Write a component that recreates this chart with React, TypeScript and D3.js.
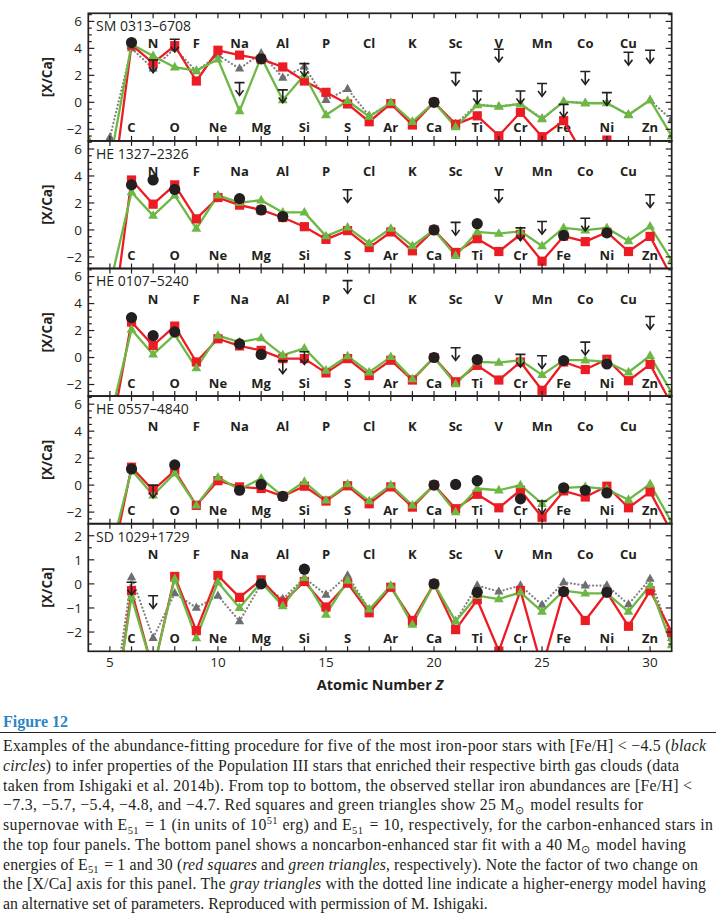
import { useEffect, useRef } from "react";
import * as d3 from "d3";

// atomic numbers covered by the model arrays (Be .. Ga)
const Z_MODEL = [4, 5, 6, 7, 8, 9, 10, 11, 12, 13, 14, 15, 16, 17, 18, 19, 20, 21, 22, 23, 24, 25, 26, 27, 28, 29, 30, 31];

const TOP_Z = [7, 9, 11, 13, 15, 17, 19, 21, 23, 25, 27, 29];
const TOP_EL = ["N", "F", "Na", "Al", "P", "Cl", "K", "Sc", "V", "Mn", "Co", "Cu"];
const BOT_Z = [6, 8, 10, 12, 14, 16, 18, 20, 22, 24, 26, 28, 30];
const BOT_EL = ["C", "O", "Ne", "Mg", "Si", "S", "Ar", "Ca", "Ti", "Cr", "Fe", "Ni", "Zn"];

const X_TICKS = [5, 10, 15, 20, 25, 30];
const Y_TICKS_CEMP = [-2, 0, 2, 4, 6];
const Y_TICKS_SD = [-2, -1, 0, 1, 2];

type V = number | null;

// ---- SM 0313-6708
const RED_1: V[] = [null, -8, 4.26, 2.9, 4.2, 1.58, 3.86, 3.5, 3.2, 2.62, 1.58, 0.74, -0.12, -1.44, -0.1, -1.68, 0, -1.63, -1.0, -2.48, -0.74, -2.55, -1.36, -4.16, -2.8, -4, -4, null];
const GREEN_1: V[] = [-2.75, -4.5, 4.3, 3.44, 2.6, 2.35, 3.19, -0.64, 3.35, 0.17, 2.03, -0.94, 0.12, -1.06, -0.02, -1.44, 0, -1.83, -0.2, -0.32, -0.12, -1.24, 0.05, -0.07, -0.05, -0.94, 0.17, -2.5];
const GRAY_1: V[] = [null, -2.6, 4.0, 2.5, 4.0, 2.3, 3.5, 2.5, 3.64, 1.83, 2.65, 0.17, 0.99, -1.0, -0.1, -1.5, 0, -1.6, -0.15, -0.3, -0.1, -1.2, 0.05, -0.05, -0.05, -0.9, 0.15, -1.3];
const OBS_1 = [[6, 4.43], [12, 3.22], [20, 0]];
const LIM_1 = [[7, 3.14], [8, 4.68], [11, 1.46], [13, 0.92], [14, 2.87], [21, 2.2], [22, 0.84], [23, 3.94], [24, 0.84], [25, 1.39], [26, -0.15], [27, 2.28], [28, 0.72], [29, 3.71], [30, 3.86]];

// ---- HE 1327-2326
const RED_2: V[] = [null, -8.4, 3.7, 1.91, 3.34, 0.82, 2.4, 1.84, 1.48, 0.92, 0.24, -0.7, -0.05, -1.31, -0.15, -1.55, 0, -1.67, -0.65, -1.6, -0.34, -2.32, -0.46, -0.87, -0.17, -1.6, -0.48, -3.5];
const GREEN_2: V[] = [null, -4.1, 2.8, 1.06, 2.56, 0.1, 2.56, 2.03, 2.2, 1.3, 1.3, -0.46, 0.19, -0.99, 0.1, -1.19, 0, -1.91, -0.15, -0.27, -0.1, -1.19, 0.15, -0.02, 0.15, -0.82, 0.27, -2.27];
const OBS_2 = [[6, 3.34], [7, 3.7], [8, 3.0], [11, 2.32], [12, 1.48], [13, 0.99], [20, 0], [22, 0.46], [26, -0.41], [28, -0.22]];
const LIM_2 = [[16, 2.98], [21, 0.56], [23, 2.98], [24, 0.15], [25, 0.63], [27, 0.87], [30, 2.61]];

// ---- HE 0107-5240
const RED_3: V[] = [null, -6.07, 2.63, 0.89, 2.33, -0.33, 1.39, 0.86, 0.53, -0.08, -0.08, -1.14, -0.08, -1.34, -0.2, -1.67, 0, -1.8, -0.58, -1.67, -0.33, -2.43, -0.33, -0.89, -0.13, -1.72, -0.51, -3.5];
const GREEN_3: V[] = [null, -4.6, 2.08, 0.23, 1.7, -0.78, 1.62, 1.14, 1.44, 0.18, 0.68, -0.96, 0.1, -1.09, 0.05, -1.6, 0, -1.97, -0.33, -0.38, -0.2, -1.29, -0.2, -0.2, -0.33, -1.09, 0.13, -2.6];
const OBS_3 = [[6, 2.96], [7, 1.62], [8, 1.9], [11, 1.01], [12, 0.23], [20, 0], [22, -0.15], [26, -0.23], [28, -0.48]];
const LIM_3 = [[13, -0.25], [14, 0.43], [16, 5.7], [21, 0.73], [24, 0.23], [25, 0.13], [27, 1.14], [30, 3.04]];

// ---- HE 0557-4840
const RED_4: V[] = [null, -6.4, 1.33, -0.38, 1.08, -1.5, 0.33, -0.13, -0.25, -0.83, -0.08, -1.18, -0.05, -1.38, -0.13, -1.63, 0, -1.75, -0.68, -1.68, -0.38, -2.38, -0.43, -0.88, -0.08, -1.68, -0.5, -3.5];
const GREEN_4: V[] = [null, -5.2, 1.13, -0.75, 0.88, -1.5, 0.58, -0.33, 0.5, -0.83, 0.25, -1.13, 0.08, -1.18, 0, -1.5, 0, -2, -0.25, -0.38, 0, -1.38, -0.2, -0.13, -0.3, -1.08, 0.08, -2.75];
const OBS_4 = [[6, 1.2], [8, 1.5], [11, -0.38], [12, 0.05], [13, -0.83], [20, 0], [21, 0.05], [22, 0.33], [24, -1.02], [26, -0.2], [27, -0.38], [28, -0.58]];
const LIM_4 = [[7, 0.0], [25, -1.18]];

// ---- SD 1029+1729
const RED_5: V[] = [null, -6.8, -0.28, -3.64, 0.31, -1.94, 0.35, -0.56, 0.17, -0.77, 0.1, -0.96, 0.03, -1.2, -0.14, -1.52, 0, -1.9, -0.66, -2.79, -0.28, -3.5, -0.32, -1.52, -0.35, -1.76, -0.28, -2.01];
const GREEN_5: V[] = [null, -6.5, -0.54, -3.6, 0.21, -2.25, 0.07, -0.99, 0.07, -0.92, 0.25, -1.27, 0.14, -1.06, -0.07, -1.69, 0, -1.55, -0.49, -0.63, -0.35, -1.15, -0.28, -0.39, -0.39, -1.15, -0.07, -2.54];
const GRAY_5: V[] = [null, -6, 0.28, -2.25, -0.39, -0.99, -0.49, -1.55, 0, -0.63, 0.25, -0.45, 0.35, -1.06, -0.14, -1.62, 0, -1.55, -0.07, -0.32, -0.07, -0.87, 0.07, -0.07, -0.07, -0.85, 0.21, -2.25];
const OBS_5 = [[12, 0], [14, 0.61], [20, 0], [22, -0.35], [26, -0.32], [28, -0.35]];
const LIM_5 = [[6, 0.07], [7, -0.49]];

const PANELS = [
  { name: "SM 0313–6708", red: RED_1, green: GREEN_1, gray: GRAY_1, obs: OBS_1, lim: LIM_1, domain: [-2.86, 6.6], ticks: Y_TICKS_CEMP, major: 2 },
  { name: "HE 1327–2326", red: RED_2, green: GREEN_2, gray: null, obs: OBS_2, lim: LIM_2, domain: [-2.86, 6.6], ticks: Y_TICKS_CEMP, major: 2 },
  { name: "HE 0107–5240", red: RED_3, green: GREEN_3, gray: null, obs: OBS_3, lim: LIM_3, domain: [-2.86, 6.6], ticks: Y_TICKS_CEMP, major: 2 },
  { name: "HE 0557–4840", red: RED_4, green: GREEN_4, gray: null, obs: OBS_4, lim: LIM_4, domain: [-2.86, 6.6], ticks: Y_TICKS_CEMP, major: 2 },
  { name: "SD 1029+1729", red: RED_5, green: GREEN_5, gray: GRAY_5, obs: OBS_5, lim: LIM_5, domain: [-2.8, 2.5], ticks: Y_TICKS_SD, major: 1 },
];

const RED = "#ec1c24";
const GREEN = "#6cb844";
const GRAYC = "#6d6e71";
const INK = "#231f20";
const SANS = "'Open Sans', 'Noto Sans', sans-serif";

const fmt = (d: number) => (d < 0 ? "−" + Math.abs(d) : String(d));

export default function App() {
  const gRef = useRef<SVGGElement>(null);

  useEffect(() => {
    if (!gRef.current) return;
    const root = d3.select(gRef.current);
    root.selectAll("*").remove();

    const left = 88.3, right = 671.7, top0 = 13.3, ph = 127.6;
    const x = d3.scaleLinear().domain([4, 31]).range([left, right]);
    const zTicks = d3.range(5, 31);

    PANELS.forEach((p, i) => {
      const t = top0 + i * ph;
      const b = t + ph;
      const y = d3.scaleLinear().domain(p.domain).range([b, t]);
      const g = root.append("g");
      const clipId = `clip-${i}`;
      g.append("clipPath").attr("id", clipId)
        .append("rect").attr("x", left).attr("y", t).attr("width", right - left).attr("height", ph);

      // element labels
      g.append("g").selectAll("text").data(TOP_Z).join("text")
        .attr("x", d => x(d)).attr("y", t + 30.5).attr("dy", "0.35em")
        .attr("text-anchor", "middle").attr("font-family", SANS).attr("font-weight", 700)
        .attr("font-size", 13).attr("fill", INK).text((d, k) => TOP_EL[k]);
      g.append("g").selectAll("text").data(BOT_Z).join("text")
        .attr("x", d => x(d)).attr("y", b - 13).attr("dy", "0.35em")
        .attr("text-anchor", "middle").attr("font-family", SANS).attr("font-weight", 700)
        .attr("font-size", 13).attr("fill", INK).text((d, k) => BOT_EL[k]);

      const data = g.append("g").attr("clip-path", `url(#${clipId})`);
      const line = d3.line<V>()
        .defined(d => d != null)
        .x((d, k) => x(Z_MODEL[k]))
        .y(d => y(d as number));
      const pts = (arr: V[]) => arr.map((v, k) => ({ z: Z_MODEL[k], v })).filter(d => d.v != null) as { z: number; v: number }[];

      if (p.gray) {
        data.append("path").attr("d", line(p.gray)).attr("fill", "none")
          .attr("stroke", "#808083").attr("stroke-width", 2.2)
          .attr("stroke-dasharray", "0.1,3.6").attr("stroke-linecap", "round");
        data.selectAll("path.gtri").data(pts(p.gray)).join("path").attr("class", "gtri")
          .attr("transform", d => `translate(${x(d.z)},${y(d.v)})`)
          .attr("d", "M0,-5.2L4.6,3L-4.6,3Z").attr("fill", GRAYC);
      }

      data.append("path").attr("d", line(p.red)).attr("fill", "none")
        .attr("stroke", RED).attr("stroke-width", 2.3).attr("stroke-linejoin", "round");
      data.append("path").attr("d", line(p.green)).attr("fill", "none")
        .attr("stroke", GREEN).attr("stroke-width", 2.3).attr("stroke-linejoin", "round");
      data.selectAll("rect.sq").data(pts(p.red)).join("rect").attr("class", "sq")
        .attr("x", d => x(d.z) - 4.6).attr("y", d => y(d.v) - 4.6)
        .attr("width", 9.2).attr("height", 9.2).attr("fill", RED);
      data.selectAll("path.tri").data(pts(p.green)).join("path").attr("class", "tri")
        .attr("transform", d => `translate(${x(d.z)},${y(d.v)})`)
        .attr("d", "M0,-5.4L4.9,3.2L-4.9,3.2Z").attr("fill", GREEN);

      data.selectAll("circle.obs").data(p.obs).join("circle").attr("class", "obs")
        .attr("cx", d => x(d[0])).attr("cy", d => y(d[1])).attr("r", 5.6).attr("fill", INK);

      const lim = data.selectAll("g.lim").data(p.lim).join("g").attr("class", "lim")
        .attr("transform", d => `translate(${x(d[0])},${y(d[1])})`)
        .attr("fill", "none").attr("stroke", INK).attr("stroke-width", 1.6);
      lim.append("line").attr("x1", -5).attr("x2", 5).attr("y1", 0).attr("y2", 0);
      lim.append("line").attr("x1", 0).attr("x2", 0).attr("y1", 0).attr("y2", 12.5);
      lim.append("path").attr("d", "M-4,7.5L0,12.8L4,7.5");

      // star label
      g.append("text").attr("x", 96).attr("y", t + 13).attr("dy", "0.35em")
        .attr("font-family", SANS).attr("font-size", 14).attr("fill", INK).text(p.name);

      // frame ticks
      const ax = g.append("g").attr("stroke", INK).attr("stroke-width", 1.2);
      ax.selectAll("line.tt").data(zTicks).join("line").attr("class", "tt")
        .attr("x1", d => x(d)).attr("x2", d => x(d)).attr("y1", t).attr("y2", t + 5);
      ax.selectAll("line.bt").data(zTicks).join("line").attr("class", "bt")
        .attr("x1", d => x(d)).attr("x2", d => x(d)).attr("y1", b).attr("y2", b - 5);
      const yMinor = d3.range(Math.ceil(p.domain[0] * 2) / 2, p.domain[1], 0.5);
      const isMajor = (d: number) => Math.abs(d / p.major - Math.round(d / p.major)) < 1e-6;
      ax.selectAll("line.lt").data(yMinor).join("line").attr("class", "lt")
        .attr("x1", left).attr("x2", d => left + (isMajor(d) ? 6 : 3.5))
        .attr("y1", d => y(d)).attr("y2", d => y(d));
      ax.selectAll("line.rt").data(yMinor).join("line").attr("class", "rt")
        .attr("x1", right).attr("x2", d => right - (isMajor(d) ? 6 : 3.5))
        .attr("y1", d => y(d)).attr("y2", d => y(d));
      g.append("rect").attr("x", left).attr("y", t).attr("width", right - left).attr("height", ph)
        .attr("fill", "none").attr("stroke", INK).attr("stroke-width", 1.7);

      // y tick labels
      g.append("g").selectAll("text").data(p.ticks).join("text")
        .attr("x", 82).attr("y", d => y(d)).attr("dy", "0.36em").attr("text-anchor", "end")
        .attr("font-family", SANS).attr("font-size", 13.5).attr("fill", INK).text(d => fmt(d));

      g.append("text").attr("transform", `translate(47,${t + ph / 2}) rotate(-90)`)
        .attr("text-anchor", "middle").attr("dy", "0.35em").attr("font-family", SANS)
        .attr("font-weight", 700).attr("font-size", 13.5).attr("fill", INK).text("[X/Ca]");

      if (i === PANELS.length - 1) {
        g.append("g").selectAll("text").data(X_TICKS).join("text")
          .attr("x", d => x(d)).attr("y", b + 11).attr("dy", "0.36em").attr("text-anchor", "middle")
          .attr("font-family", SANS).attr("font-size", 13.5).attr("fill", INK).text(d => d);
        const lab = g.append("text").attr("x", 380).attr("y", b + 39)
          .attr("text-anchor", "middle").attr("font-family", SANS).attr("font-weight", 700)
          .attr("font-size", 14.5).attr("fill", INK);
        lab.append("tspan").text("Atomic Number ");
        lab.append("tspan").attr("font-style", "italic").text("Z");
      }
    });
  }, []);

  const sub = (s: string) => (
    <>
      <tspan fontSize="10.5" dy="3.5">{s}</tspan>
      <tspan dy="-3.5">{"\u200a"}</tspan>
    </>
  );

  // caption line geometry: baseline of first line, spacing, and right-hand ends
  const cap0 = 751, capStep = 19.75;
  const ends = [706, 679, 692, 643, 713, 686, 698, 706];
  const cl = (k: number) =>
    k < ends.length
      ? { x: 3, y: cap0 + k * capStep, textLength: ends[k] - 3, lengthAdjust: "spacing" as const }
      : { x: 3, y: cap0 + k * capStep };

  return (
    <svg width={721} height={920} style={{ position: "absolute", left: 0, top: 0, background: "#fff" }}>
      <rect width={721} height={920} fill="#fff" />
      <g ref={gRef} />
      <text x={3} y={726.5} fill="#2b86c5" fontFamily="'Liberation Serif', serif" fontSize={16} fontWeight="bold">Figure 12</text>
      <line x1={0} x2={716} y1={732.5} y2={732.5} stroke={INK} strokeWidth={1.2} />
      <g fontFamily="'Liberation Serif', serif" fontSize={15.8} fill={INK}>
        <text {...cl(0)}>Examples of the abundance-fitting procedure for five of the most iron-poor stars with [Fe/H] &lt; −4.5 (<tspan fontStyle="italic">black</tspan></text>
        <text {...cl(1)}><tspan fontStyle="italic">circles</tspan>) to infer properties of the Population III stars that enriched their respective birth gas clouds (data</text>
        <text {...cl(2)}>taken from Ishigaki et al. 2014b). From top to bottom, the observed stellar iron abundances are [Fe/H] &lt;</text>
        <text {...cl(3)}>−7.3, −5.7, −5.4, −4.8, and −4.7. Red squares and green triangles show 25 M{sub("⊙")} model results for</text>
        <text {...cl(4)}>supernovae with E{sub("51")} = 1 (in units of 10<tspan fontSize="10.5" dy="-6">51</tspan><tspan dy="6"> erg) and E</tspan>{sub("51")} = 10, respectively, for the carbon-enhanced stars in</text>
        <text {...cl(5)}>the top four panels. The bottom panel shows a noncarbon-enhanced star fit with a 40 M{sub("⊙")} model having</text>
        <text {...cl(6)}>energies of E{sub("51")} = 1 and 30 (<tspan fontStyle="italic">red squares</tspan> and <tspan fontStyle="italic">green triangles</tspan>, respectively). Note the factor of two change on</text>
        <text {...cl(7)}>the [X/Ca] axis for this panel. The <tspan fontStyle="italic">gray triangles</tspan> with the dotted line indicate a higher-energy model having</text>
        <text {...cl(8)}>an alternative set of parameters. Reproduced with permission of M. Ishigaki.</text>
      </g>
    </svg>
  );
}
